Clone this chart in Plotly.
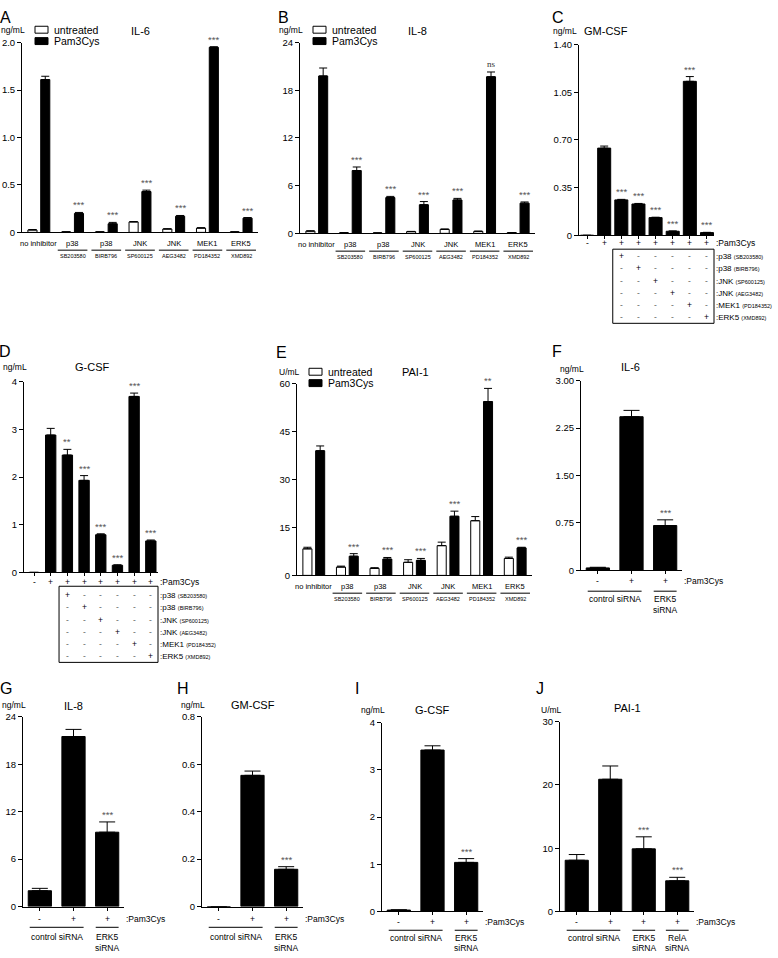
import plotly.graph_objects as go

W, H = 778, 958
FONT = "Liberation Sans, Arial, Helvetica, sans-serif"
STAR = "#555555"

# ---------------- data ----------------
inh_groups = ["no inhibitor", "p38", "p38", "JNK", "JNK", "MEK1", "ERK5"]
inh_compounds = ["", "SB203580", "BIRB796", "SP600125", "AEG3482", "PD184352", "XMD892"]

# A  IL-6 (ng/mL)
il6_untreated = [0.025, 0.005, 0.005, 0.11, 0.035, 0.045, 0.005]
il6_untreated_err = [0.005, 0, 0, 0.004, 0.003, 0.004, 0]
il6_pam = [1.61, 0.20, 0.09, 0.43, 0.17, 1.95, 0.15]
il6_pam_err = [0.035, 0.01, 0.015, 0.015, 0.008, 0.006, 0.006]
il6_sig = ["", "***", "***", "***", "***", "***", "***"]

# B  IL-8 (ng/mL)
il8_untreated = [0.28, 0.08, 0.05, 0.22, 0.5, 0.25, 0.1]
il8_untreated_err = [0.04, 0, 0, 0.03, 0.05, 0.03, 0]
il8_pam = [19.8, 7.9, 4.5, 3.6, 4.2, 19.7, 3.8]
il8_pam_err = [1.0, 0.45, 0.15, 0.4, 0.2, 0.6, 0.15]
il8_sig = ["", "***", "***", "***", "***", "ns", "***"]

# E  PAI-1 (U/mL)
pai_untreated = [8.3, 2.6, 2.2, 4.1, 9.3, 17.1, 5.3]
pai_untreated_err = [0.5, 0.3, 0.2, 0.8, 1.1, 1.3, 0.4]
pai_pam = [39.0, 6.0, 5.1, 4.7, 18.5, 54.4, 8.6]
pai_pam_err = [1.5, 0.8, 0.5, 0.6, 1.6, 4.1, 0.2]
pai_sig = ["", "***", "***", "***", "***", "**", "***"]

# C / D  inhibitor combinations
combo_pam = ["-", "+", "+", "+", "+", "+", "+", "+"]
combo_rows = ["p38", "p38", "JNK", "JNK", "MEK1", "ERK5"]

gmcsf_values = [0.0, 0.64, 0.26, 0.23, 0.13, 0.03, 1.13, 0.02]
gmcsf_err = [0, 0.015, 0.004, 0.004, 0.003, 0.002, 0.035, 0.002]
gmcsf_sig = ["", "", "***", "***", "***", "***", "***", "***"]

gcsf_values = [0.0, 2.88, 2.46, 1.93, 0.79, 0.15, 3.69, 0.66]
gcsf_err = [0, 0.14, 0.12, 0.1, 0.02, 0.01, 0.07, 0.02]
gcsf_sig = ["", "", "**", "***", "***", "***", "***", "***"]

# F-J  siRNA experiments
sirna_pam_3 = ["-", "+", "+"]
sirna_pam_4 = ["-", "+", "+", "+"]
sirna_groups_3 = [["control siRNA"], ["ERK5", "siRNA"]]
sirna_groups_4 = [["control siRNA"], ["ERK5", "siRNA"], ["RelA", "siRNA"]]

f_il6 = [0.04, 2.43, 0.71]
f_il6_err = [0.01, 0.1, 0.09]
f_sig = ["", "", "***"]

g_il8 = [2.0, 21.5, 9.4]
g_il8_err = [0.3, 0.9, 1.3]
g_sig = ["", "", "***"]

h_gmcsf = [0.0, 0.553, 0.157]
h_gmcsf_err = [0, 0.018, 0.011]
h_sig = ["", "", "***"]

i_gcsf = [0.03, 3.42, 1.04]
i_gcsf_err = [0.005, 0.09, 0.08]
i_sig = ["", "", "***"]

j_pai = [8.1, 20.9, 9.9, 4.85]
j_pai_err = [0.9, 2.1, 1.9, 0.55]
j_sig = ["", "", "***", "***"]

# ---------------- helpers ----------------
fig = go.Figure()
axes = {}
ann = []
shp = []
geom = {}


def px(x):
    return x / W


def py(y):
    return 1 - y / H


def refs(k):
    s = "" if k == 1 else str(k)
    return "x" + s, "y" + s


def xpix(k, x):
    left, right, x0, x1, bottom = geom[k]
    return left + (x - x0) / (x1 - x0) * (right - left)


def text_paper(t, x, y, size, xanchor="center", yanchor="middle", color="black"):
    ann.append(dict(text=t, x=px(x), y=py(y), xref="paper", yref="paper",
                    xanchor=xanchor, yanchor=yanchor, showarrow=False,
                    font=dict(family=FONT, size=size, color=color)))


def text_data(k, t, x, y, size, yshift=0, xshift=0, xanchor="center",
              yanchor="middle", color="black", family=FONT):
    xr, yr = refs(k)
    ann.append(dict(text=t, x=x, y=y, xref=xr, yref=yr, xshift=xshift, yshift=yshift,
                    xanchor=xanchor, yanchor=yanchor, showarrow=False,
                    font=dict(family=family, size=size, color=color)))


def hline_below(k, x0, x1, off):
    bottom = geom[k][4]
    shp.append(dict(type="line", xref="paper", yref="paper",
                    x0=px(xpix(k, x0)), x1=px(xpix(k, x1)),
                    y0=py(bottom + off), y1=py(bottom + off),
                    line=dict(color="black", width=1)))


def make_axes(k, left, right, top, bottom, xrng, yrng, yticks, yticktext, nx=0):
    geom[k] = (left, right, xrng[0], xrng[1], bottom)
    s = "" if k == 1 else str(k)
    axes["xaxis" + s] = dict(domain=[px(left), px(right)], range=xrng, anchor="y" + s,
                             showline=True, linecolor="black", linewidth=1, showgrid=False,
                             zeroline=False, showticklabels=False,
                             ticks="outside" if nx else "", tickvals=list(range(nx)),
                             ticklen=3, tickcolor="black", fixedrange=True)
    axes["yaxis" + s] = dict(domain=[py(bottom), py(top)], range=yrng, anchor="x" + s,
                             showline=True, linecolor="black", linewidth=1, showgrid=False,
                             zeroline=False, ticks="outside", ticklen=4, tickcolor="black",
                             tickvals=yticks, ticktext=yticktext,
                             tickfont=dict(family=FONT, size=9.5, color="black"),
                             fixedrange=True)


def bars(k, x, y, err, fill, width, cap):
    xr, yr = refs(k)
    fig.add_trace(go.Bar(x=x, y=y, width=width, xaxis=xr, yaxis=yr,
                         marker=dict(color=fill, line=dict(color="black", width=1)),
                         error_y=dict(type="data", array=err, arrayminus=[0] * len(err),
                                      symmetric=False, color="black", thickness=1, width=cap),
                         showlegend=False, hoverinfo="skip"))


def headers(letter, lxy, title, txy, unit, uxy):
    text_paper(letter, lxy[0], lxy[1], 16)
    text_paper(title, txy[0], txy[1], 11)
    text_paper(unit, uxy[0], uxy[1], 8.5)


def legend(x, y):
    for j, (lab, fill) in enumerate([("untreated", "white"), ("Pam3Cys", "black")]):
        yy = y + j * 11.5
        shp.append(dict(type="rect", xref="paper", yref="paper", x0=px(x), x1=px(x + 13),
                        y0=py(yy + 3.5), y1=py(yy - 3.5), fillcolor=fill,
                        line=dict(color="black", width=1)))
        text_paper(lab, x + 17, yy, 10.5, xanchor="left")


def grouped_panel(k, left, right, top, bottom, ymax, yticks, yticktext,
                  unt, unt_err, pam, pam_err, sig):
    make_axes(k, left, right, top, bottom, [-0.5, 6.5], [0, ymax], yticks, yticktext)
    n = len(pam)
    bars(k, [i - 0.19 for i in range(n)], unt, unt_err, "white", 0.27, 4)
    bars(k, [i + 0.19 for i in range(n)], pam, pam_err, "black", 0.27, 4)
    for i in range(n):
        if sig[i]:
            if "*" in sig[i]:
                text_data(k, sig[i], i + 0.19, pam[i] + pam_err[i], 9.5, yanchor="bottom",
                          color=STAR)
            else:
                text_data(k, sig[i], i + 0.19, pam[i] + pam_err[i], 9, yanchor="bottom",
                          yshift=1, color="#333333", family="Liberation Serif, serif")
        text_data(k, inh_groups[i], i, 0, 7.5, yshift=-11)
        if inh_compounds[i]:
            hline_below(k, i - 0.44, i + 0.44, 18)
            text_data(k, inh_compounds[i], i, 0, 5.5, yshift=-24)


def combo_panel(k, left, right, top, bottom, xrng, ymax, yticks, yticktext,
                vals, errs, sig, width, pam_off, row_offs, box_top, box_bot):
    make_axes(k, left, right, top, bottom, xrng, [0, ymax], yticks, yticktext, nx=len(vals))
    bars(k, list(range(len(vals))), vals, errs, "black", width, 4)
    for i, s in enumerate(sig):
        if s:
            text_data(k, s, i, vals[i] + errs[i], 9.5, yanchor="bottom", color=STAR)
    for i, s in enumerate(combo_pam):
        text_data(k, s, i, 0, 8.5, yshift=-pam_off)
    text_data(k, ":Pam3Cys", xrng[1], 0, 8.5, yshift=-pam_off, xanchor="left", xshift=0)
    for r, name in enumerate(combo_rows):
        for c in range(2, len(vals)):
            text_data(k, "+" if c - 2 == r else "-", c, 0, 8.5, yshift=-row_offs[r],
                      color="black" if c - 2 == r else "#666666")
        lab = ":" + name + " <span style='font-size:5.5px'>(" + inh_compounds[r + 1] + ")</span>"
        text_data(k, lab, xrng[1], 0, 8, yshift=-row_offs[r], xanchor="left", xshift=0)
    shp.append(dict(type="rect", xref="paper", yref="paper",
                    x0=px(xpix(k, 1.5)), x1=px(right),
                    y0=py(bottom + box_top), y1=py(bottom + box_bot),
                    line=dict(color="black", width=1)))


def sirna_panel(k, left, right, top, bottom, ymax, yticks, yticktext, vals, errs, sig,
                signs, groups, offs):
    pam_off, line_off, lab_off, lab2_off = offs
    n = len(vals)
    make_axes(k, left, right, top, bottom, [-0.5, n - 0.5], [0, ymax], yticks, yticktext, nx=n)
    bars(k, list(range(n)), vals, errs, "black", 0.69, 8)
    for i, s in enumerate(sig):
        if s:
            text_data(k, s, i, vals[i] + errs[i], 9.5, yanchor="bottom", color=STAR)
    for i, s in enumerate(signs):
        text_data(k, s, i, 0, 8.5, yshift=-pam_off)
    text_data(k, ":Pam3Cys", n - 0.5, 0, 8.5, yshift=-pam_off, xanchor="left", xshift=0)
    # first group spans the first two columns, the rest one column each
    spans = [(0, 1)] + [(c, c) for c in range(2, n)]
    for g, (c0, c1) in zip(groups, spans):
        if c0 == c1:
            hline_below(k, c0 - 0.34, c1 + 0.34, line_off)
        else:
            hline_below(k, c0 - 0.3, c1 + 0.3, line_off)
        text_data(k, g[0], (c0 + c1) / 2, 0, 8.5, yshift=-lab_off)
        if len(g) > 1:
            text_data(k, g[1], (c0 + c1) / 2, 0, 8.5, yshift=-lab2_off)


# ---------------- panels ----------------
# A
grouped_panel(1, 22, 258, 37, 229, 2.0, [0, 0.5, 1.0, 1.5, 2.0], ["0", "0.5", "1.0", "1.5", "2.0"],
              il6_untreated, il6_untreated_err, il6_pam, il6_pam_err, il6_sig)
headers("A", (5, 12), "IL-6", (140, 25), "ng/mL", (13, 24))
legend(35, 24)

# B
grouped_panel(2, 300, 535, 37, 230, 24, [0, 6, 12, 18, 24], ["0", "6", "12", "18", "24"],
              il8_untreated, il8_untreated_err, il8_pam, il8_pam_err, il8_sig)
headers("B", (283, 12), "IL-8", (417, 25), "ng/mL", (291, 24))
legend(313, 24)

# C
combo_panel(3, 579, 714, 39, 232, [-0.47, 7.41], 1.40, [0, 0.35, 0.70, 1.05, 1.40],
            ["0", "0.35", "0.70", "1.05", "1.40"], gmcsf_values, gmcsf_err, gmcsf_sig, 0.76,
            8, [21, 33, 46, 58, 70, 82], 14, 89)
headers("C", (558, 12), "GM-CSF", (606, 25), "ng/mL", (565, 25))

# D
combo_panel(4, 24, 158, 380, 573, [-0.6, 7.43], 4, [0, 1, 2, 3, 4], ["0", "1", "2", "3", "4"],
            gcsf_values, gcsf_err, gcsf_sig, 0.62, 10, [23, 35, 48, 60, 72, 84], 14, 91)
headers("D", (5, 350), "G-CSF", (92, 365), "ng/mL", (15, 365))

# E
grouped_panel(5, 297, 532, 382, 576, 60, [0, 15, 30, 45, 60], ["0", "15", "30", "45", "60"],
              pai_untreated, pai_untreated_err, pai_pam, pai_pam_err, pai_sig)
headers("E", (281, 351), "PAI-1", (415, 370), "U/mL", (289, 370))
legend(309, 370)

# F
sirna_panel(6, 581, 682, 379, 571, 3.0, [0, 0.75, 1.5, 2.25, 3.0],
            ["0", "0.75", "1.50", "2.25", "3.00"], f_il6, f_il6_err, f_sig,
            sirna_pam_3, sirna_groups_3, (11, 21, 29, 40))
headers("F", (557, 350), "IL-6", (630, 365), "ng/mL", (572, 367))

# G
sirna_panel(7, 23, 124, 719, 911, 24, [0, 6, 12, 18, 24], ["0", "6", "12", "18", "24"],
            g_il8, g_il8_err, g_sig, sirna_pam_3, sirna_groups_3, (12, 21, 30, 41))
headers("G", (6, 690), "IL-8", (73, 708), "ng/mL", (14, 707))

# H
sirna_panel(8, 202, 303, 719, 911, 0.8, [0, 0.2, 0.4, 0.6, 0.8], ["0", "0.2", "0.4", "0.6", "0.8"],
            h_gmcsf, h_gmcsf_err, h_sig, sirna_pam_3, sirna_groups_3, (12, 21, 30, 41))
headers("H", (183, 690), "GM-CSF", (253, 707), "ng/mL", (193, 707))

# I
sirna_panel(9, 382, 483, 725, 916, 4, [0, 1, 2, 3, 4], ["0", "1", "2", "3", "4"],
            i_gcsf, i_gcsf_err, i_sig, sirna_pam_3, sirna_groups_3, (11, 19, 27, 37))
headers("I", (357, 690), "G-CSF", (432, 712), "ng/mL", (373, 712))

# J
sirna_panel(10, 560, 694, 724, 916, 30, [0, 10, 20, 30], ["0", "10", "20", "30"],
            j_pai, j_pai_err, j_sig, sirna_pam_4, sirna_groups_4, (11, 19, 27, 37))
headers("J", (540, 690), "PAI-1", (627, 710), "U/mL", (551, 712))

fig.update_layout(width=W, height=H, margin=dict(l=0, r=0, t=0, b=0),
                  paper_bgcolor="white", plot_bgcolor="white", barmode="overlay",
                  showlegend=False, font=dict(family=FONT, color="black"),
                  annotations=ann, shapes=shp, **axes)
fig.write_html("out.html", config={"displayModeBar": False},
               post_script="document.body.style.margin='0px';document.body.style.overflow='hidden';")
